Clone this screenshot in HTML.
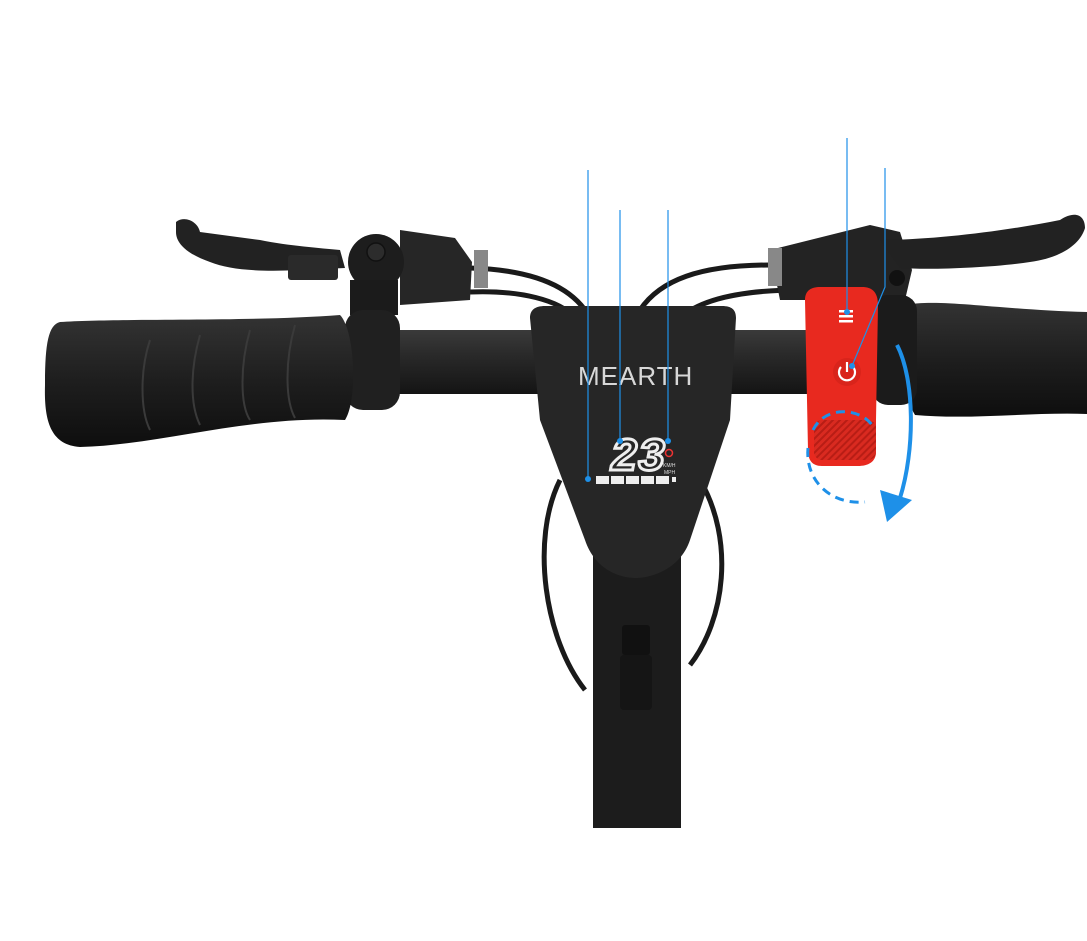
<!DOCTYPE html>
<html><head><meta charset="utf-8"><style>
html,body{margin:0;padding:0;background:#fff;}
svg{display:block}
</style></head><body>
<svg width="1087" height="941" viewBox="0 0 1087 941" xmlns="http://www.w3.org/2000/svg">
<defs>
<linearGradient id="bar" x1="0" y1="0" x2="0" y2="1">
<stop offset="0" stop-color="#3a3a3a"/><stop offset="0.35" stop-color="#2b2b2b"/><stop offset="1" stop-color="#141414"/>
</linearGradient>
<linearGradient id="grip" x1="0" y1="0" x2="0" y2="1">
<stop offset="0" stop-color="#333"/><stop offset="0.5" stop-color="#1e1e1e"/><stop offset="1" stop-color="#0e0e0e"/>
</linearGradient>
<pattern id="rib" width="5" height="5" patternUnits="userSpaceOnUse" patternTransform="rotate(45)">
<rect width="5" height="5" fill="#d92a20"/><rect width="2" height="5" fill="#b81d15"/>
</pattern>
</defs>

<!-- cables -->
<g fill="none" stroke="#1a1a1a" stroke-width="5">
<path d="M470 268 C540 270 575 290 590 318"/>
<path d="M470 292 C520 290 560 300 575 318"/>
<path d="M640 310 C660 280 700 265 770 265"/>
<path d="M680 318 C700 300 740 290 800 290"/>
<path d="M560 480 C530 540 545 640 585 690"/>
<path d="M700 480 C735 540 725 620 690 665"/>
</g>

<!-- left brake lever -->
<path d="M176 222 C185 215 198 222 200 232 L260 240 C290 246 320 248 340 250 L345 268 L300 270 C260 272 230 270 210 262 C190 255 176 245 176 232 Z" fill="#222"/>
<rect x="288" y="255" width="50" height="25" rx="3" fill="#2a2a2a"/>
<!-- left mount -->
<path d="M400 230 L455 238 L472 262 L470 300 L400 305 Z" fill="#262626"/>
<circle cx="376" cy="262" r="28" fill="#1d1d1d"/>
<circle cx="376" cy="252" r="9" fill="#2c2c2c" stroke="#111" stroke-width="1.5"/>
<rect x="350" y="280" width="48" height="35" fill="#1b1b1b"/>
<rect x="474" y="250" width="14" height="38" fill="#888"/>

<!-- right brake lever & mount -->
<path d="M770 250 L870 225 L900 232 L912 270 L905 300 L780 300 Z" fill="#232323"/>
<path d="M880 240 C930 240 1000 232 1060 220 C1075 210 1085 215 1085 228 C1080 245 1060 258 1030 262 C990 268 930 270 900 268 Z" fill="#222"/>
<rect x="768" y="248" width="14" height="38" fill="#888"/>
<circle cx="897" cy="278" r="8" fill="#111"/>

<!-- handlebar -->
<rect x="330" y="330" width="600" height="64" rx="10" fill="url(#bar)"/>
<!-- left clamp -->
<rect x="345" y="310" width="55" height="100" rx="18" fill="#202020"/>
<!-- left grip -->
<path d="M60 322 C120 318 250 322 340 315 C355 330 358 400 345 420 C250 415 160 445 80 447 C50 445 44 420 45 385 C45 345 48 325 60 322 Z" fill="url(#grip)"/>
<g fill="none" stroke="#3a3a3a" stroke-width="2">
<path d="M150 340 C140 370 140 410 150 430"/><path d="M200 335 C190 370 190 405 200 425"/><path d="M250 330 C240 365 240 405 250 420"/><path d="M295 325 C285 360 285 400 295 418"/>
</g>
<!-- right grip -->
<path d="M905 305 C940 298 1000 310 1087 312 L1087 414 C1030 412 970 420 915 415 C900 390 898 330 905 305 Z" fill="url(#grip)"/>
<rect x="872" y="295" width="45" height="110" rx="16" fill="#1b1b1b"/>

<!-- stem -->
<rect x="593" y="540" width="88" height="288" fill="#1c1c1c"/>
<path d="M530 318 C530 310 535 306 545 306 L722 306 C732 306 736 310 736 318 L730 420 L690 540 C680 570 650 578 636 578 C620 578 595 570 585 540 L540 420 Z" fill="#262626"/>
<rect x="622" y="625" width="28" height="30" rx="3" fill="#111"/>
<rect x="620" y="655" width="32" height="55" rx="4" fill="#151515"/>

<text x="578" y="385" font-family="Liberation Sans, sans-serif" font-size="26" fill="#d8d8d8" letter-spacing="1">MEARTH</text>
<text x="610" y="470" font-family="Liberation Mono, monospace" font-size="46" font-style="italic" fill="none" stroke="#eee" stroke-width="3" font-weight="bold">23</text>
<circle cx="669" cy="453" r="3.5" fill="none" stroke="#e33" stroke-width="1.5"/>
<text x="663" y="467" font-family="Liberation Sans, sans-serif" font-size="5" fill="#ddd">KM/H</text>
<text x="664" y="474" font-family="Liberation Sans, sans-serif" font-size="5" fill="#ddd">MPH</text>
<g fill="#eee">
<rect x="596" y="476" width="13" height="8"/><rect x="611" y="476" width="13" height="8"/><rect x="626" y="476" width="13" height="8"/><rect x="641" y="476" width="13" height="8"/><rect x="656" y="476" width="13" height="8"/><rect x="672" y="477" width="4" height="5"/>
</g>

<!-- red throttle -->
<path d="M805 300 C805 290 812 287 820 287 L862 287 C872 287 878 292 878 305 L876 420 L876 452 C876 462 868 466 858 466 L822 466 C812 466 808 460 808 450 Z" fill="#e8291f"/>
<rect x="814" y="420" width="62" height="40" rx="8" fill="url(#rib)"/>
<g fill="#fff"><rect x="839" y="310" width="14" height="2.5"/><rect x="839" y="315" width="14" height="2.5"/><rect x="839" y="320" width="14" height="2.5"/></g>
<circle cx="847" cy="372" r="14" fill="#d9241b"/>
<path d="M841 367 A8 8 0 1 0 853 367" fill="none" stroke="#fff" stroke-width="2.2"/>
<line x1="847" y1="362" x2="847" y2="372" stroke="#fff" stroke-width="2.2"/>

<!-- blue arrows -->
<path d="M808 448 C805 480 830 505 865 502" fill="none" stroke="#1e90e8" stroke-width="3" stroke-dasharray="9 6"/>
<path d="M813 430 C825 405 860 408 872 425" fill="none" stroke="#1e90e8" stroke-width="3" stroke-dasharray="9 6"/>
<path d="M897 345 C915 380 915 450 900 498" fill="none" stroke="#1e90e8" stroke-width="4"/>
<path d="M880 490 L912 500 L887 522 Z" fill="#1e90e8"/>

<!-- callout lines -->
<g stroke="#1e90e8" stroke-width="1.2" fill="none">
<line x1="588" y1="170" x2="588" y2="479"/>
<line x1="620" y1="210" x2="620" y2="441"/>
<line x1="668" y1="210" x2="668" y2="441"/>
<line x1="847" y1="138" x2="847" y2="312"/>
<polyline points="885,168 885,287 852,366"/>
</g>
<g fill="#1e90e8">
<circle cx="588" cy="479" r="3"/><circle cx="620" cy="441" r="3"/><circle cx="668" cy="441" r="3"/><circle cx="847" cy="312" r="3"/><circle cx="852" cy="366" r="3"/>
</g>
</svg>
</body></html>
